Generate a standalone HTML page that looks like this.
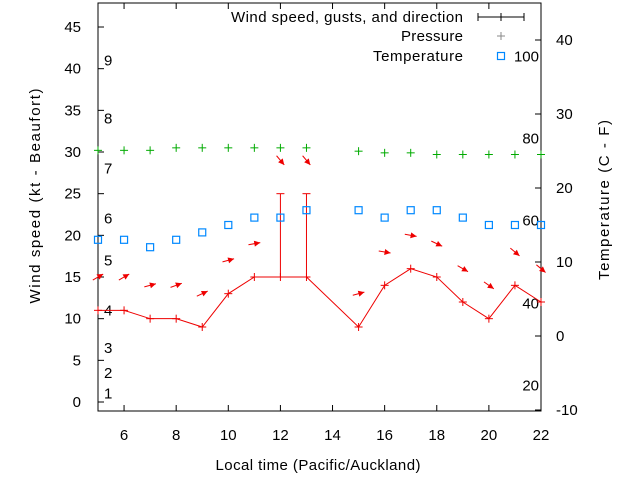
<!DOCTYPE html>
<html><head><meta charset="utf-8"><style>
body{margin:0;background:#fff}
svg{display:block;font-family:"Liberation Sans",sans-serif}
</style></head><body>
<svg id="c" width="640" height="480"></svg>
<script>
const hours=[5,6,7,8,9,10,11,12,13,15,16,17,18,19,20,21,22];
const wind=[11,11,10,10,9,13,15,15,15,9,14,16,15,12,10,14,12];
const gust=[null,null,null,null,null,null,null,25,25,null,null,null,null,null,null,null,null];
const arrowY=[15,15,14,14,13,17,19,29,29,13,18,20,19,16,14,18,16];
const arrowAng=[-30,-30,-15,-20,-25,-15,-10,50,50,-15,10,10,25,30,35,40,40];
const pressure=[30.2,30.2,30.2,30.5,30.5,30.5,30.5,30.5,30.5,30.1,29.9,29.9,29.7,29.7,29.7,29.7,29.7];
const temp=[13,13,12,13,14,15,16,16,17,17,16,17,17,16,15,15,15];
const xTicks=[6,8,10,12,14,16,18,20,22];
const yTicks=[0,5,10,15,20,25,30,35,40,45];
const y2Ticks=[-10,0,10,20,30,40];
const beaufort=[[1,1],[2,3.5],[3,6.5],[4,11],[5,17],[6,22],[7,28],[8,34],[9,41]];
const fahr=[[20,-6.7],[40,4.4],[60,15.6],[80,26.7],[100,37.8]];
const L=98,R=541,T=3,B=411;
const X=h=>L+(h-5)*(R-L)/17;
const Y=v=>402-v*8.333;
const Y2=t=>336-t*7.4;
const s=document.getElementById('c');
const NS='http://www.w3.org/2000/svg';
function el(tag,a,p){const e=document.createElementNS(NS,tag);for(const k in a)e.setAttribute(k,a[k]);(p||s).appendChild(e);return e;}
function tx(x,y,t,anchor,size){const e=el('text',{x:x,y:y,'text-anchor':anchor||'middle','font-size':size||15,fill:'#000'});e.textContent=t;return e;}
const fr=el('rect',{x:L,y:T,width:R-L,height:B-T,fill:'none',stroke:'#000','stroke-width':1});

xTicks.forEach(h=>{el('line',{x1:X(h),y1:B,x2:X(h),y2:B-6,stroke:'#000'});el('line',{x1:X(h),y1:T,x2:X(h),y2:T+6,stroke:'#000'});
 const t=tx(X(h),440,h);});
yTicks.forEach(v=>{el('line',{x1:L,y1:Y(v),x2:L+6,y2:Y(v),stroke:'#000'});
 const t=tx(L-17,Y(v)+5,v,'end');});
y2Ticks.forEach(v=>{el('line',{x1:R,y1:Y2(v),x2:R-6,y2:Y2(v),stroke:'#000'});
 const t=tx(R+15,Y2(v)+5,v,'start');});
beaufort.forEach(b=>{const t=tx(104,Y(b[1])+5,b[0],'start');});
fahr.forEach(f=>{const t=tx(539,Y2(f[1])+5,f[0],'end');});
let t=tx(318,470,'Local time (Pacific/Auckland)');t.setAttribute('textLength','205');
t=el('text',{x:0,y:0,'text-anchor':'middle','font-size':15,textLength:215,transform:'translate(40,196) rotate(-90)'});t.textContent='Wind speed (kt - Beaufort)';

t=el('text',{x:0,y:0,'text-anchor':'middle','font-size':15,textLength:160,transform:'translate(609,200) rotate(-90)'});t.textContent='Temperature (C - F)';

let pts=hours.map((h,i)=>X(h)+','+Y(wind[i])).join(' ');
const wl=el('polyline',{points:pts,fill:'none',stroke:'#e00','stroke-width':1});

hours.forEach((h,i)=>{const g=el('g',{stroke:'#e00'});
 
 el('line',{x1:X(h)-4,y1:Y(wind[i]),x2:X(h)+4,y2:Y(wind[i])},g);el('line',{x1:X(h),y1:Y(wind[i])-4,x2:X(h),y2:Y(wind[i])+4},g);
 if(gust[i]!=null){el('line',{x1:X(h),y1:Y(wind[i]),x2:X(h),y2:Y(gust[i])},g);el('line',{x1:X(h)-4,y1:Y(gust[i]),x2:X(h)+4,y2:Y(gust[i])},g);}
});
hours.forEach((h,i)=>{const a=arrowAng[i]*Math.PI/180,cx=X(h),cy=Y(arrowY[i]),dx=Math.cos(a)*6,dy=Math.sin(a)*6;
 const g=el('g',{});
 el('line',{x1:cx-dx,y1:cy-dy,x2:cx+dx,y2:cy+dy,stroke:'#e00'},g);
 const tx2=cx+dx,ty2=cy+dy,ux=Math.cos(a),uy=Math.sin(a);
 el('polygon',{points:`${tx2},${ty2} ${tx2-6*ux-3*uy},${ty2-6*uy+3*ux} ${tx2-6*ux+3*uy},${ty2-6*uy-3*ux}`,fill:'#e00'},g);});
hours.forEach((h,i)=>{const g=el('g',{stroke:'#0a0'});
 el('line',{x1:X(h)-4,y1:Y(pressure[i]),x2:X(h)+4,y2:Y(pressure[i])},g);el('line',{x1:X(h),y1:Y(pressure[i])-4,x2:X(h),y2:Y(pressure[i])+4},g);});
hours.forEach((h,i)=>{const r=el('rect',{x:X(h)-3.5,y:Y2(temp[i])-3.5,width:7,height:7,fill:'none',stroke:'#08f','stroke-width':1.2});
 });
t=tx(463,22,'Wind speed, gusts, and direction','end');t.setAttribute('textLength','232');
el('line',{x1:478,y1:17,x2:524,y2:17,stroke:'#000'});el('line',{x1:478,y1:13,x2:478,y2:21,stroke:'#000'});el('line',{x1:524,y1:13,x2:524,y2:21,stroke:'#000'});el('line',{x1:501,y1:13,x2:501,y2:21,stroke:'#000'});
t=tx(463,41,'Pressure','end');t.setAttribute('textLength','62');
el('line',{x1:497,y1:36,x2:505,y2:36,stroke:'#888'});el('line',{x1:501,y1:32,x2:501,y2:40,stroke:'#888'});
t=tx(463,61,'Temperature','end');t.setAttribute('textLength','90');
el('rect',{x:497.5,y:52.5,width:7,height:7,fill:'none',stroke:'#08f','stroke-width':1.2});
</script>
</body></html>
